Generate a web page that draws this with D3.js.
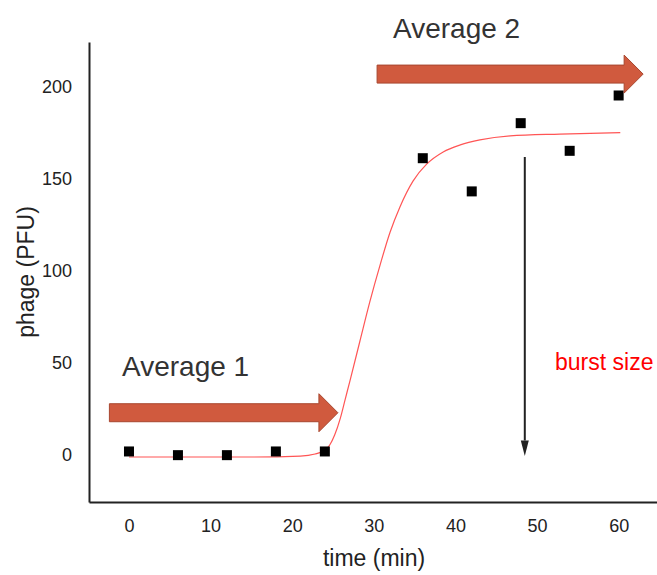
<!DOCTYPE html>
<html>
<head>
    <title>phage burst</title>
    <script src="https://cdn.jsdelivr.net/npm/d3@7"></script>
    <style>
        body { margin: 0; background: white; }
        #drawingPlace text { font-family: "Liberation Sans", Arial, sans-serif; }
    </style>
</head>
<body>
<svg id="drawingPlace" width="657" height="575"></svg>
<script>
    // measured points (time in min, phage in PFU)
    var times = [0, 6, 12, 18, 24, 36, 42, 48, 54, 60];
    var phage = [3, 1, 1, 3, 3, 162, 144, 181, 166, 196];

    // fitted curve
    var curveT = [0, 14.8, 21, 22.8, 24, 24.6, 25.2, 25.9, 26.5, 27.1, 28.3, 29.5, 30.8, 32, 33.2, 34.8, 36.5, 38.5, 40.6, 43, 46.7, 52.8, 60.2];
    var curveV = [0, 0, 0.5, 1.6, 3.8, 6.5, 11.9, 21.1, 31.4, 41.7, 62.9, 84, 104.6, 122, 135.6, 149.6, 158.9, 165.4, 169.2, 171.9, 174.1, 175.1, 175.9];

    var xTicks = [0, 10, 20, 30, 40, 50, 60];
    var yTicks = [0, 50, 100, 150, 200];

    var svg = d3.select("#drawingPlace");

    //scales
    var x = d3.scaleLinear().domain([-4.9, 64.7]).range([89, 657]);
    var y = d3.scaleLinear().domain([-24.4, 225]).range([502, 42]);

    //axes
    svg.append("g")
        .attr("transform", "translate(0,502)")
        .call(d3.axisBottom(x).tickValues(xTicks).tickSize(0).tickPadding(17));
    svg.append("g")
        .attr("transform", "translate(89,0)")
        .call(d3.axisLeft(y).tickValues(yTicks).tickSize(0).tickPadding(17))
        .selectAll("text").attr("dy", "0.22em");
    svg.selectAll(".domain").attr("stroke", "#222").attr("stroke-width", 2);
    svg.selectAll(".tick text").attr("font-size", 18).attr("fill", "#222");

    svg.append("text")
        .attr("x", 374).attr("y", 566)
        .attr("text-anchor", "middle")
        .attr("font-size", 23).attr("fill", "#222")
        .text("time (min)");
    svg.append("text")
        .attr("transform", "translate(34,272) rotate(-90)")
        .attr("text-anchor", "middle")
        .attr("font-size", 23).attr("fill", "#222")
        .text("phage (PFU)");

    //red curve
    var line = d3.line()
        .x(d => x(d[0]))
        .y(d => y(d[1]))
        .curve(d3.curveMonotoneX);
    svg.append("path")
        .datum(d3.zip(curveT, curveV))
        .attr("d", line)
        .attr("fill", "none")
        .attr("stroke", "#ff5555")
        .attr("stroke-width", 1.2);

    //squares
    svg.selectAll("rect.pt")
        .data(d3.zip(times, phage))
        .enter()
        .append("rect")
        .attr("class", "pt")
        .attr("x", d => x(d[0]) - 5)
        .attr("y", d => y(d[1]) - 5)
        .attr("width", 10)
        .attr("height", 10)
        .attr("fill", "black");

    //block arrows
    function blockArrow(t0, t1, v) {
        var x0 = x(t0), x1 = x(t1), yc = y(v);
        var pts = [[x0, yc - 9], [x1 - 19, yc - 9], [x1 - 19, yc - 19], [x1, yc],
                   [x1 - 19, yc + 19], [x1 - 19, yc + 9], [x0, yc + 9]];
        svg.append("path")
            .attr("d", "M" + pts.join("L") + "Z")
            .attr("fill", "#d05a3e")
            .attr("stroke", "#a8472f")
            .attr("stroke-width", 1);
    }
    blockArrow(-2.4, 25.6, 24);
    blockArrow(30.4, 63, 207.6);

    svg.append("text")
        .attr("x", 122).attr("y", 376)
        .attr("font-size", 28).attr("fill", "#333")
        .text("Average 1");
    svg.append("text")
        .attr("x", 393).attr("y", 38)
        .attr("font-size", 28).attr("fill", "#333")
        .text("Average 2");

    //burst size arrow
    svg.append("line")
        .attr("x1", x(48.5)).attr("x2", x(48.5))
        .attr("y1", y(162.6)).attr("y2", y(9))
        .attr("stroke", "#222").attr("stroke-width", 2);
    svg.append("path")
        .attr("d", "M" + (x(48.5) - 4) + "," + y(9) + "L" + (x(48.5) + 4) + "," + y(9) +
            "L" + x(48.5) + "," + y(0.5) + "Z")
        .attr("fill", "#222");
    svg.append("text")
        .attr("x", 555).attr("y", 370)
        .attr("font-size", 23).attr("fill", "red")
        .text("burst size");
</script>
</body>
</html>
